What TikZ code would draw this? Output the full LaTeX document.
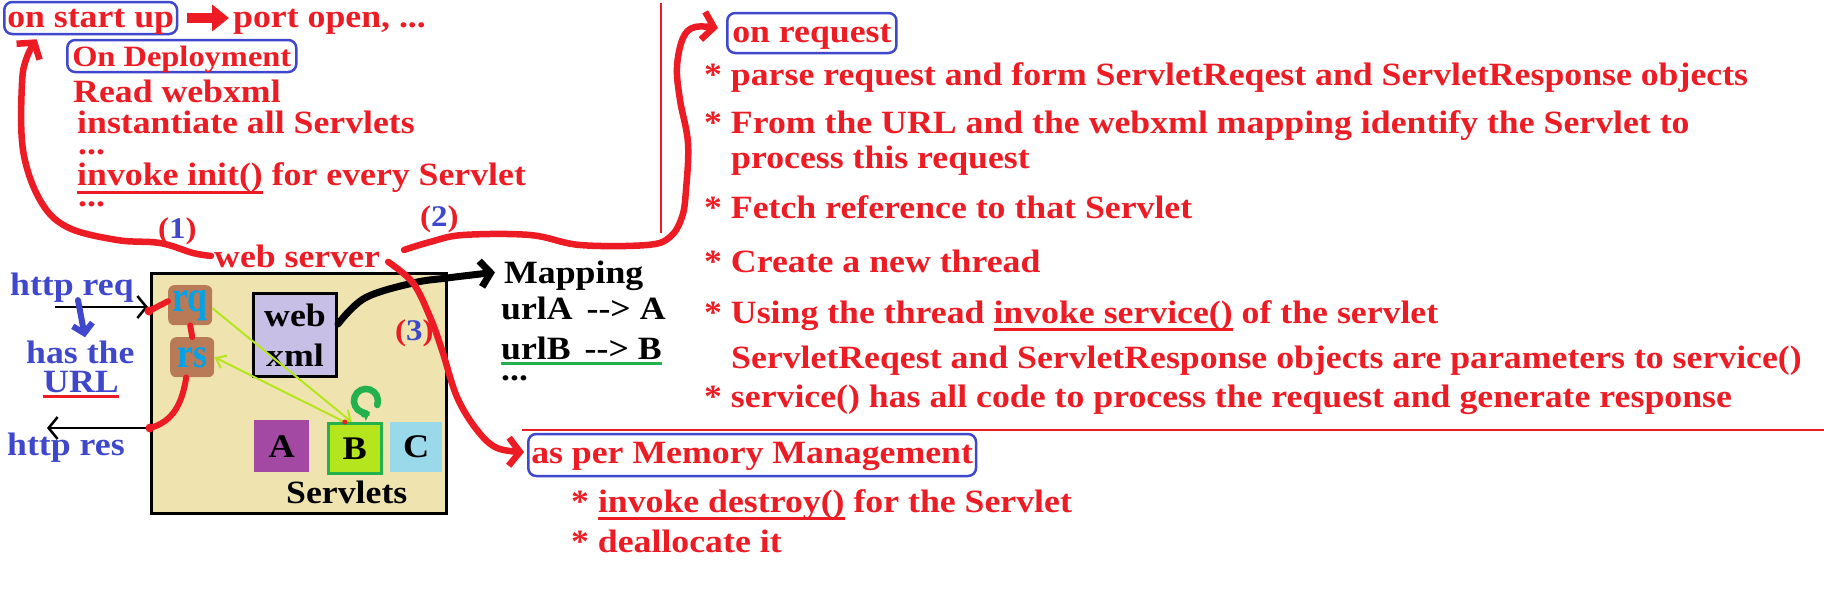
\documentclass[tikz,border=0pt]{standalone}
\usepackage{fontspec}
\setmainfont{Liberation Serif}[FakeStretch=1.1]
\usepackage{xcolor}
\usepackage{graphicx}
\usetikzlibrary{positioning, arrows.meta}

\definecolor{redtxt}{HTML}{ED1C24}
\definecolor{bluebox}{HTML}{3F48CC}
\definecolor{bluetxt}{HTML}{3F48CC}
\definecolor{rqtxt}{HTML}{00A2E8}
\definecolor{brownbox}{HTML}{B97A57}
\definecolor{lavender}{HTML}{C8BFE7}
\definecolor{purpleA}{HTML}{A349A4}
\definecolor{limeB}{HTML}{B5E61D}
\definecolor{greenB}{HTML}{22B14C}
\definecolor{cyanC}{HTML}{99D9EA}
\definecolor{beige}{HTML}{EFE4B0}

\newcommand{\bigtxt}{\fontsize{32.5}{40}\selectfont\bfseries}
% underline: colour, drop below baseline, text
\newcommand{\ulin}[3]{\setbox0\hbox{#3}\rlap{\color{#1}\rule[-#2]{\wd0}{3pt}}\box0{}}

\begin{document}
\begin{tikzpicture}[x=1pt, y=-1pt,
            lbl/.style={inner sep=0pt, anchor=base west, font=\bigtxt, text=redtxt},
            blk/.style={lbl, text=black},
            blu/.style={lbl, text=bluetxt},
            num/.style={lbl, font=\fontsize{30}{36}\selectfont\bfseries},
            roundbox/.style={lbl, draw=bluebox, line width=2.5pt, rounded corners=8pt, inner ysep=0pt},
            cbox/.style={anchor=north west, inner sep=0pt, font=\fontsize{33}{34}\selectfont\bfseries},
            rqbox/.style={cbox, fill=brownbox, rounded corners=6pt, minimum width=44pt, minimum height=40pt, text=rqtxt, font=\bigtxt},
            redpen/.style={draw=redtxt, line width=6.5pt, line cap=round, line join=round, -{Straight Barb[length=11pt, width=28pt]}},
            redlink/.style={draw=redtxt, line width=6pt, line cap=round},
            thinarrow/.style={draw=black, line width=2.5pt, -{Straight Barb[length=9pt, width=22pt]}},
            limearrow/.style={draw=limeB, line width=2pt, -{Straight Barb[length=9pt, width=14pt]}},
            blockarrow/.style={draw=redtxt, line width=10pt, -{Triangle[length=17pt, width=26pt]}}
        ]
        \useasboundingbox (0,0) rectangle (1824,592);

        % on start up
        \node[roundbox, text height=25pt, text depth=7pt, inner xsep=3pt] (startup) at (3,27) {on start up};
        \node[lbl] (portopen) at (233,27) {port open, ...};
        \draw[blockarrow] ([xshift=9pt]startup.east) -- ([xshift=-4pt]startup.east -| portopen.west);

        % On Deployment
        \node[roundbox, font=\fontsize{29.5}{36}\selectfont\bfseries, text height=26pt, text depth=6pt, inner xsep=5pt] (deploy) at (66,66) {On Deployment};
        \node[lbl] (readxml) at (73,102) {Read webxml};
        \node[lbl] (inst) at (77,133) {instantiate all Servlets};
        \node[lbl] (dots1) at (78,154) {...};
        \node[lbl] (init) at (77,185) {\ulin{redtxt}{8.5pt}{invoke init()} for every Servlet};
        \node[lbl] (dots2) at (78,206) {...};

        % server box
        \node[draw, line width=2.5pt, fill=beige, minimum width=295pt, minimum height=240pt, anchor=north west, inner sep=0pt] (srv) at (150,272) {};
        \node[rqbox] (rq) at (168,285) {\scalebox{1}[1.35]{rq}};
        \node[rqbox] (rs) at (170,337) {\scalebox{1}[1.3]{rs}};
        \node[cbox, draw, line width=3pt, fill=lavender, minimum width=83pt, minimum height=83pt, align=center, font=\bigtxt] (webxml) at (252,292) {web\\xml};
        \node[cbox, fill=purpleA, minimum width=55pt, minimum height=52pt] (A) at (254,420) {A};
        \node[cbox, fill=limeB, draw=greenB, line width=2.5pt, minimum width=53pt, minimum height=50pt] (B) at (327,422) {B};
        \node[cbox, fill=cyanC, minimum width=52pt, minimum height=50pt] (C) at (390,422) {C};
        \node[blk] (servlets) at (286,503) {Servlets};

        % numbers and web server
        \node[num] (n1) at (158,238) {(\textcolor{bluetxt}{1})};
        \node[num] (n2) at (420,226) {(\textcolor{bluetxt}{2})};
        \node[num] (n3) at (395,340) {(\textcolor{bluetxt}{3})};
        \node[lbl] (ws) at (214,267) {web server};

        % http side
        \node[blu] (httpreq) at (10,295) {http req};
        \node[blu] (hasthe) at (26,363) {has the};
        \node[blu] (url) at (43,392) {\ulin{redtxt}{6pt}{URL}};
        \node[blu] (httpres) at (7,455) {http res};
        \coordinate (reqtail) at (55,307);
        \coordinate (reqhit) at (149,311);
        \coordinate (restail) at (47,428);
        \coordinate (reshit) at (150,428);
        \draw[thinarrow, shorten >=2pt] (reqtail) -- (reqtail -| srv.west);
        \draw[thinarrow] (srv.west |- restail) -- (restail);
        \draw[draw=bluetxt, line width=6pt, line cap=round, -{Straight Barb[length=9pt, width=20pt]}] ([xshift=68pt, yshift=2pt]httpreq.south west) -- ([xshift=59pt, yshift=3pt]hasthe.north west);
        \draw[redlink] (reqhit) -- ([yshift=4pt]rq.west);
        \fill[redtxt] (reqhit) circle (4.5pt);
        \draw[redlink] (rq.south) -- (rs.north);
        \draw[redlink] ([xshift=-6pt]rs.south) .. controls (182,405) and (172,422) .. (reshit);
        \fill[redtxt] (reshit) circle (4.5pt);

        % servlet lookups
        \draw[limearrow] ([yshift=-3pt]rq.east) -- ([xshift=-3pt]B.north);
        \draw[limearrow] ([xshift=-10pt]B.north) -- (rs.east);
        \fill[redtxt] ([xshift=-10pt]B.north) circle (2.5pt);
        \draw[greenB, line width=6.5pt, line cap=round, -{Triangle[length=7pt, width=13pt]}] ([xshift=22.5pt, yshift=17pt]B.north) arc[start angle=-20, end angle=290, radius=12pt];

        % Mapping
        \node[blk] (mapping) at (504,283) {Mapping};
        \node[blk] (urla) at (501,319) {urlA\hspace{14pt}-{}->\ A};
        \node[blk] (urlb) at (501,359) {\ulin{greenB}{6pt}{urlB\hspace{14pt}-{}->\ B}};
        \node[blk] (dots3) at (501,380) {...};
        \draw[line width=7pt, line cap=round, -{Straight Barb[length=10pt, width=26pt]}] plot[smooth, tension=0.6] coordinates {([yshift=11pt]webxml.east) (365,298) (413,283) (447,278) ([xshift=-9pt, yshift=3pt]mapping.west)};

        % on request
        \draw[redtxt, line width=1.5pt] (661,3) -- (661,233);
        \node[roundbox, text height=29pt, text depth=11pt, inner xsep=5pt] (onreq) at (726,42) {on request};
        \node[lbl] (r1) at (704,85) {* parse request and form ServletReqest and ServletResponse objects};
        \node[lbl] (r2) at (704,133) {* From the URL and the webxml mapping identify the Servlet to};
        \node[lbl] (r2b) at (731,168) {process this request};
        \node[lbl] (r3) at (704,218) {* Fetch reference to that Servlet};
        \node[lbl] (r4) at (704,272) {* Create a new thread};
        \node[lbl] (r5) at (704,323) {* Using the thread \ulin{redtxt}{8pt}{invoke service()} of the servlet};
        \node[lbl] (r5b) at (731,368) {ServletReqest and ServletResponse objects are parameters to service()};
        \node[lbl] (r6) at (704,407) {* service() has all code to process the request and generate response};
        \draw[redtxt, line width=2pt] (522,430) -- (1824,430);

        % as per Memory Management
        \node[roundbox, text height=29pt, text depth=13pt, inner xsep=3pt] (memmgmt) at (527,463) {as per Memory Management};
        \node[lbl] (m1) at (571,512) {* \ulin{redtxt}{8pt}{invoke destroy()} for the Servlet};
        \node[lbl] (m2) at (571,552) {* deallocate it};

        % curves (1) (2) (3)
        \draw[redpen] plot[smooth, tension=0.6] coordinates {([xshift=-3pt]ws.west) (193,253) (160,243) (117,240) (67,227) (40,200) (23,150) (22,83) (27,57) ([xshift=-54pt, yshift=-4pt]startup.south)};
        \draw[redpen] plot[smooth, tension=0.6] coordinates {([xshift=24pt, yshift=6pt]ws.east) (430,242) (463,235) (530,235) (580,245) (647,245) (670,237) (682,217) (686,190) (688,143) (680,100) (677,67) (683,38) (695,27) ([xshift=-8pt, yshift=5pt]onreq.west)};
        \draw[redpen] plot[smooth, tension=0.6] coordinates {([xshift=8pt, yshift=-6pt]ws.east) (413,283) (430,317) (442,350) (457,397) (477,430) (497,448) ([xshift=-3pt, yshift=3pt]memmgmt.west)};

\end{tikzpicture}
\end{document}
